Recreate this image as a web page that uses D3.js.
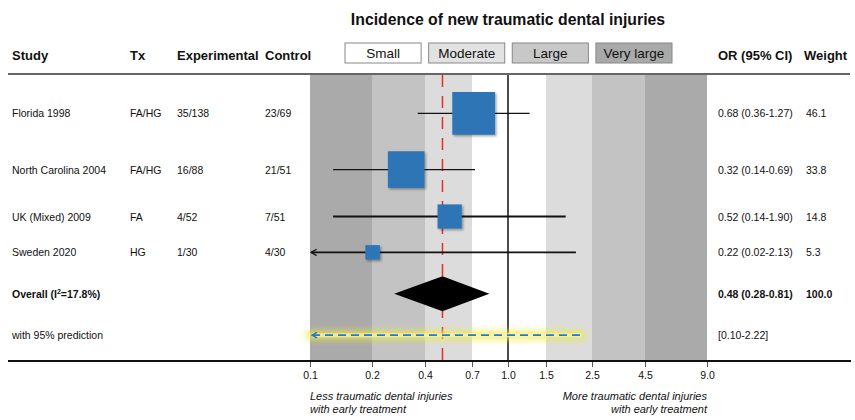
<!DOCTYPE html>
<html><head><meta charset="utf-8">
<script src="https://cdn.jsdelivr.net/npm/d3@7"></script>
<style>
html,body{margin:0;padding:0;background:#fff;}
text{font-family:"Liberation Sans",Arial,sans-serif;fill:#111;}
</style></head>
<body>
<svg id="chart" width="855" height="420"></svg>
<script>
// ---------- data ----------
const title = "Incidence of new traumatic dental injuries";
const studies = ["Florida 1998", "North Carolina 2004", "UK (Mixed) 2009", "Sweden 2020"];
const treatments = ["FA/HG", "FA/HG", "FA", "HG"];
const experimental = ["35/138", "16/88", "4/52", "1/30"];
const control = ["23/69", "21/51", "7/51", "4/30"];
const oddsRatio = [0.68, 0.32, 0.52, 0.22];
const ciLower = [0.36, 0.14, 0.14, 0.02];
const ciUpper = [1.27, 0.69, 1.90, 2.13];
const weights = [46.1, 33.8, 14.8, 5.3];
const overallOR = 0.48, overallLower = 0.28, overallUpper = 0.81, overallWeight = 100.0;
const predLower = 0.10, predUpper = 2.22;
const i2 = 17.8;
const tickValues = [0.1, 0.2, 0.4, 0.7, 1.0, 1.5, 2.5, 4.5, 9.0];
const bandEdges = [0.1, 0.2, 0.4, 0.7, 1.5, 2.5, 4.5, 9.0];
const bandClass = ["Very large", "Large", "Moderate", "Small", "Moderate", "Large", "Very large"];
const legendLabels = ["Small", "Moderate", "Large", "Very large"];
const headers = ["Study", "Tx", "Experimental", "Control"];
const leftNote = ["Less traumatic dental injuries", "with early treatment"];
const rightNote = ["More traumatic dental injuries", "with early treatment"];

// ---------- setup ----------
const svg = d3.select("#chart");
const bandFill = {"Small": "#ffffff", "Moderate": "#dcdcdc", "Large": "#c3c3c3", "Very large": "#aaaaaa"};
const legendFill = {"Small": "#ffffff", "Moderate": "#e2e2e2", "Large": "#c8c8c8", "Very large": "#a9a9a9"};
const blue = "#2e75b6";

const plotTop = 75, plotBottom = 361;
// axis/band scale: piecewise log through the labelled ticks
const x = d3.scaleLog().domain(tickValues)
  .range([310, 372, 425, 472, 508, 546, 592, 645, 707]).clamp(true);
// marker scale: plain log odds-ratio scale
const xm = d3.scaleLog().domain([0.1, 9]).range([302, 705]);
const xc = v => Math.max(x.range()[0], Math.min(x.range()[x.range().length - 1], xm(v)));
const size = d3.scaleSqrt().domain([0, 100]).range([0, 63]);

const colX = [12, 130, 177, 265];
const orX = 718, wX = 806;

// row layout: stacked by marker heights
const pad = 16.5;
const rowY = [];
let yy = plotTop + 17;
weights.forEach((w) => {
  const s = size(w);
  rowY.push(yy + s / 2);
  yy += s + pad;
});
const diamondHalf = 17.5;
const overallY = yy + diamondHalf;
const predY = overallY + diamondHalf + pad + 7.5;

// defs
const defs = svg.append("defs");
const glow = defs.append("filter").attr("id", "glow").attr("filterUnits", "userSpaceOnUse")
  .attr("x", 280).attr("y", predY - 25).attr("width", 340).attr("height", 50);
glow.append("feGaussianBlur").attr("stdDeviation", 3);
const shadow = defs.append("filter").attr("id", "shadow").attr("x", "-20%").attr("y", "-20%").attr("width", "150%").attr("height", "150%");
shadow.append("feDropShadow").attr("dx", 1.5).attr("dy", 1.5).attr("stdDeviation", 1).attr("flood-color", "#000").attr("flood-opacity", 0.35);
defs.append("marker").attr("id", "arrowBlack").attr("viewBox", "0 0 10 10").attr("refX", 1).attr("refY", 5)
  .attr("markerWidth", 8).attr("markerHeight", 8).attr("orient", "auto").attr("markerUnits", "userSpaceOnUse")
  .append("path").attr("d", "M8,1 L1,5 L8,9").attr("fill", "none").attr("stroke", "#111").attr("stroke-width", 1.6);
defs.append("marker").attr("id", "arrowBlue").attr("viewBox", "0 0 10 10").attr("refX", 1).attr("refY", 5)
  .attr("markerWidth", 7).attr("markerHeight", 7).attr("orient", "auto").attr("markerUnits", "userSpaceOnUse")
  .append("path").attr("d", "M8,1 L1,5 L8,9").attr("fill", "none").attr("stroke", blue).attr("stroke-width", 2);

// bands
svg.append("g").selectAll("rect").data(bandClass).join("rect")
  .attr("x", (d, i) => x(bandEdges[i]))
  .attr("width", (d, i) => x(bandEdges[i + 1]) - x(bandEdges[i]))
  .attr("y", plotTop).attr("height", plotBottom - plotTop)
  .attr("fill", d => bandFill[d]);

// title
svg.append("text").attr("x", x(1)).attr("y", 25).attr("text-anchor", "middle")
  .attr("font-size", 15.8).attr("font-weight", "bold").text(title);

// headers
svg.append("g").selectAll("text").data(headers).join("text")
  .attr("x", (d, i) => colX[i]).attr("y", 60).attr("font-size", 13).attr("font-weight", "bold").text(d => d);
svg.append("text").attr("x", orX).attr("y", 60).attr("font-size", 13).attr("font-weight", "bold").text("OR (95% CI)");
svg.append("text").attr("x", wX - 2).attr("y", 60).attr("font-size", 13).attr("font-weight", "bold").text("Weight");

// legend
const legX = d3.scaleBand().domain(legendLabels).range([345, 672]).paddingInner(0.09);
const leg = svg.append("g").selectAll("g").data(legendLabels).join("g");
leg.append("rect").attr("x", d => legX(d)).attr("y", 43).attr("width", legX.bandwidth()).attr("height", 20)
  .attr("fill", d => legendFill[d]).attr("stroke", "#888").attr("stroke-width", 1);
leg.append("text").attr("x", d => legX(d) + legX.bandwidth() / 2).attr("y", 58).attr("text-anchor", "middle")
  .attr("font-size", 13.5).text(d => d);

// top rule
svg.append("line").attr("x1", 8).attr("x2", 850).attr("y1", 74).attr("y2", 74).attr("stroke", "#333").attr("stroke-width", 1.5);

// red dashed overall line
svg.append("line").attr("x1", xm(overallOR)).attr("x2", xm(overallOR)).attr("y1", plotTop).attr("y2", plotBottom)
  .attr("stroke", "#e0302a").attr("stroke-width", 1.5).attr("stroke-dasharray", "12,9");

// reference line at 1
svg.append("line").attr("x1", x(1)).attr("x2", x(1)).attr("y1", plotTop).attr("y2", plotBottom)
  .attr("stroke", "#111").attr("stroke-width", 1.5);

// CI lines
const rows = studies.map((s, i) => ({s, i}));
svg.append("g").selectAll("line").data(rows).join("line")
  .attr("x1", d => xc(ciLower[d.i]) + 1)
  .attr("x2", d => xc(ciUpper[d.i]))
  .attr("y1", d => rowY[d.i]).attr("y2", d => rowY[d.i])
  .attr("stroke", "#111").attr("stroke-width", d => d.i < 2 ? 1.3 : 1.8)
  .attr("marker-start", d => xm(ciLower[d.i]) < x.range()[0] ? "url(#arrowBlack)" : null);

// squares
svg.append("g").selectAll("rect").data(rows).join("rect")
  .attr("x", d => xm(oddsRatio[d.i]) - size(weights[d.i]) / 2)
  .attr("y", d => rowY[d.i] - size(weights[d.i]) / 2)
  .attr("width", d => size(weights[d.i])).attr("height", d => size(weights[d.i]))
  .attr("fill", blue).attr("filter", "url(#shadow)");

// diamond
svg.append("path")
  .attr("d", `M${xm(overallLower)},${overallY} L${xm(overallOR)},${overallY - diamondHalf} L${xm(overallUpper)},${overallY} L${xm(overallOR)},${overallY + diamondHalf} Z`)
  .attr("fill", "#000");

// prediction interval
svg.append("line").attr("x1", xc(predLower)).attr("x2", xm(predUpper) + 2).attr("y1", predY).attr("y2", predY)
  .attr("stroke", "#f0ea3c").attr("stroke-width", 9).attr("stroke-linecap", "round")
  .attr("opacity", 0.75).attr("filter", "url(#glow)");
svg.append("line").attr("x1", xc(predLower) + 2).attr("x2", xm(predUpper) + 2).attr("y1", predY).attr("y2", predY)
  .attr("stroke", "#f8f5b0").attr("stroke-width", 4).attr("opacity", 0.7);
svg.append("line").attr("x1", xc(predLower) + 2).attr("x2", xm(predUpper) + 2).attr("y1", predY).attr("y2", predY)
  .attr("stroke", "#2a78c8").attr("stroke-width", 1.7).attr("stroke-dasharray", "8,5")
  .attr("marker-start", "url(#arrowBlue)");

// left text columns
const fs = 10.5;
const colData = [studies, treatments, experimental, control];
colData.forEach((arr, c) => {
  svg.append("g").selectAll("text").data(arr).join("text")
    .attr("x", colX[c]).attr("y", (d, i) => rowY[i] + 4).attr("font-size", fs).text(d => d);
});
svg.append("g").selectAll("text").data(rows).join("text")
  .attr("x", orX).attr("y", d => rowY[d.i] + 4).attr("font-size", fs)
  .text(d => `${oddsRatio[d.i].toFixed(2)} (${ciLower[d.i].toFixed(2)}-${ciUpper[d.i].toFixed(2)})`);
svg.append("g").selectAll("text").data(weights).join("text")
  .attr("x", wX).attr("y", (d, i) => rowY[i] + 4).attr("font-size", fs).text(d => d.toFixed(1));

// overall row
const ov = svg.append("text").attr("x", colX[0]).attr("y", overallY + 4).attr("font-size", fs).attr("font-weight", "bold");
ov.append("tspan").text("Overall (I");
ov.append("tspan").attr("font-size", 7).attr("dy", -4).text("2");
ov.append("tspan").attr("dy", 4).text(`=${i2.toFixed(1)}%)`);
svg.append("text").attr("x", orX).attr("y", overallY + 4).attr("font-size", fs).attr("font-weight", "bold")
  .text(`${overallOR.toFixed(2)} (${overallLower.toFixed(2)}-${overallUpper.toFixed(2)})`);
svg.append("text").attr("x", wX).attr("y", overallY + 4).attr("font-size", fs).attr("font-weight", "bold")
  .text(overallWeight.toFixed(1));
svg.append("text").attr("x", colX[0]).attr("y", predY + 4).attr("font-size", fs).text("with 95% prediction");
svg.append("text").attr("x", orX).attr("y", predY + 4).attr("font-size", fs)
  .text(`[${predLower.toFixed(2)}-${predUpper.toFixed(2)}]`);

// axis
const axis = d3.axisBottom(x).tickValues(tickValues).tickFormat(d3.format(".1f")).tickSize(6).tickSizeOuter(0);
const ax = svg.append("g").attr("transform", `translate(0,${plotBottom})`).call(axis);
ax.select(".domain").remove();
ax.selectAll(".tick line").attr("stroke", "#555").attr("stroke-width", 1);
ax.selectAll(".tick text").attr("font-size", fs).attr("font-family", "Liberation Sans, Arial, sans-serif").attr("fill", "#111").attr("dy", "0.9em");
svg.append("line").attr("x1", 8).attr("x2", 851).attr("y1", plotBottom).attr("y2", plotBottom)
  .attr("stroke", "#111").attr("stroke-width", 1.8);

// notes
svg.append("g").selectAll("text").data(leftNote).join("text")
  .attr("x", x(0.1)).attr("y", (d, i) => 400 + i * 13).attr("font-size", 11).attr("font-style", "italic").text(d => d);
svg.append("g").selectAll("text").data(rightNote).join("text")
  .attr("x", x(9)).attr("y", (d, i) => 400 + i * 13).attr("text-anchor", "end").attr("font-size", 11).attr("font-style", "italic").text(d => d);
</script>
</body></html>
